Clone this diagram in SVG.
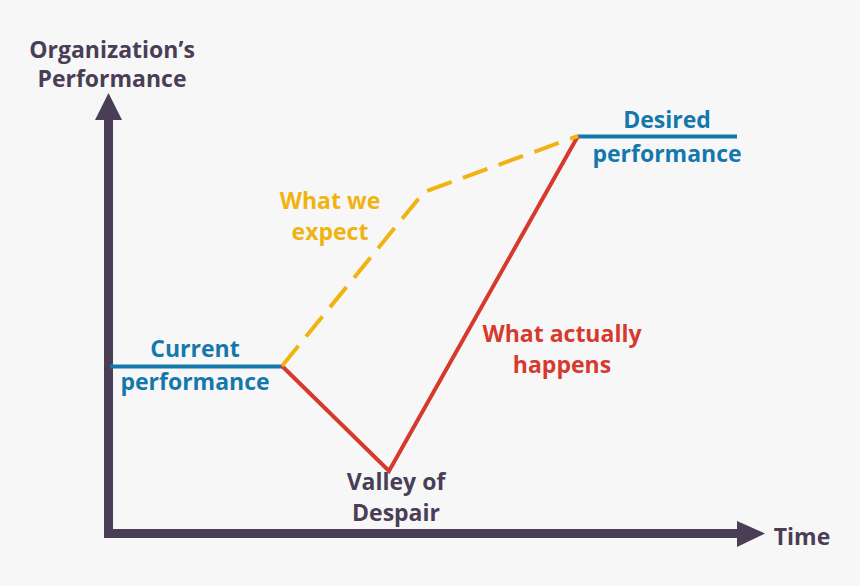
<svg xmlns="http://www.w3.org/2000/svg" width="860" height="586" viewBox="0 0 860 586">
<style>
text{font-family:"Open Sans","Noto Sans","Liberation Sans",sans-serif;font-weight:700;font-size:23px;text-anchor:middle}
.ax{fill:#4a3e56}
.bl{fill:#1578ac}
.ye{fill:#f0b310}
.rd{fill:#d63a2d}
</style>
<rect width="860" height="586" fill="#f7f7f7"/>
<g id="axes">
<rect x="104" y="118" width="9" height="420" fill="#4a3e56"/>
<polygon points="95,120 108.5,93 122,120" fill="#4a3e56"/>
<rect x="104" y="529" width="636" height="9" fill="#4a3e56"/>
<polygon points="737,521 765,533.5 737,547" fill="#4a3e56"/>
</g>
<g id="connectors" fill="none" stroke-width="4">
<line x1="110" y1="366.5" x2="282" y2="366.5" stroke="#1578ac"/>
<line x1="578" y1="136.5" x2="737" y2="136.5" stroke="#1578ac"/>
<polyline points="282,366 389,471 578,136" stroke="#d63a2d"/>
<polyline points="282,366 424,192 578,136" stroke="#f0b310" stroke-dasharray="26 12"/>
</g>
<g id="y-label"><text class="ax" x="112" y="58">Organization’s</text><text class="ax" x="112" y="87">Performance</text></g>
<g id="current"><text class="bl" x="195" y="357">Current</text><text class="bl" x="195" y="390">performance</text></g>
<g id="desired"><text class="bl" x="667" y="128">Desired</text><text class="bl" x="667" y="162">performance</text></g>
<g id="expect"><text class="ye" x="330" y="209">What we</text><text class="ye" x="330" y="240">expect</text></g>
<g id="actual"><text class="rd" x="562" y="342">What actually</text><text class="rd" x="562" y="373">happens</text></g>
<g id="valley"><text class="ax" x="396" y="490">Valley of</text><text class="ax" x="396" y="521">Despair</text></g>
<g id="time"><text class="ax" x="802" y="545">Time</text></g>
</svg>
